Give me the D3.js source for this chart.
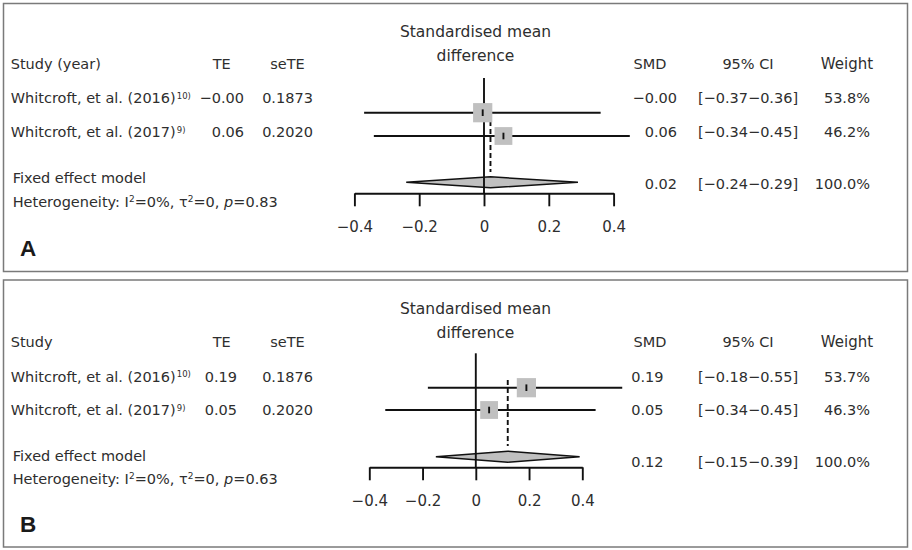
<!DOCTYPE html>
<html>
<head>
<meta charset="utf-8">
<script src="https://cdn.jsdelivr.net/npm/d3@7"></script>
<style>
  html, body { margin: 0; padding: 0; background: #fff; }
  svg text { font-family: "DejaVu Sans", sans-serif; fill: #2e2e2e; }
</style>
</head>
<body>
<svg id="chart" width="912" height="550"></svg>
<script>
// ---------------- data ----------------
const studies = ["Whitcroft, et al. (2016)", "Whitcroft, et al. (2017)"];
const studyRefs = ["10)", "9)"];
const panelLetters = ["A", "B"];
const studyHeaders = ["Study (year)", "Study"];
const tickValues = [-0.4, -0.2, 0, 0.2, 0.4];

// Panel A
const teA = [-0.004, 0.06];
const seTEA = [0.1873, 0.2020];
const ciLowA = [-0.37, -0.34];
const ciHighA = [0.36, 0.45];
const weightA = [53.8, 46.2];
const fixedA = [0.02, -0.24, 0.29, 100.0];   // estimate, lower, upper, weight
const hetA = [0, 0, 0.83];                    // I2 (%), tau2, p

// Panel B
const teB = [0.19, 0.05];
const seTEB = [0.1876, 0.2020];
const ciLowB = [-0.18, -0.34];
const ciHighB = [0.55, 0.45];
const weightB = [53.7, 46.3];
const fixedB = [0.12, -0.15, 0.39, 100.0];
const hetB = [0, 0, 0.63];

// ---------------- layout ----------------
const layouts = [
  { top: 3.5, bottom: 271.5, titleY: [37, 60.5], headerY: 69, rowTextY: [103, 137],
    femY: 183, hetY: 207, sumTextY: 189, rowLineY: [112.7, 136], diamondY: 182.3,
    axisY: 193.3, zeroTop: 78, dashTop: 105, dashBottom: 172, letterY: 256,
    xRange: [354.4, 613.6], teRight: 244, smdRight: 677 },
  { top: 280, bottom: 547, titleY: [314, 338], headerY: 347, rowTextY: [381.5, 415],
    femY: 460.5, hetY: 484, sumTextY: 467, rowLineY: [387.7, 410], diamondY: 456.7,
    axisY: 467.3, zeroTop: 353.3, dashTop: 380, dashBottom: 446, letterY: 531.5,
    xRange: [369.3, 582.3], teRight: 237, smdRight: 663.5 }
];

const panels = [
  { te: teA, se: seTEA, lo: ciLowA, hi: ciHighA, w: weightA, fixed: fixedA, het: hetA },
  { te: teB, se: seTEB, lo: ciLowB, hi: ciHighB, w: weightB, fixed: fixedB, het: hetB }
];

const svg = d3.select("#chart");
const FS = 14.5;
const LW = 1.9;
const minus = s => s.replace(/-/g, "\u2212");
const f2 = v => minus(v.toFixed(2));
const f4 = v => v.toFixed(4);

panels.forEach((p, pi) => {
  const L = layouts[pi];
  const g = svg.append("g");
  const x = d3.scaleLinear().domain([-0.4, 0.4]).range(L.xRange);

  // border
  g.append("rect").attr("x", 3.5).attr("y", L.top).attr("width", 904)
    .attr("height", L.bottom - L.top).attr("fill", "none")
    .attr("stroke", "#7a7a7a").attr("stroke-width", 1.5);

  const txt = (t, xx, yy, anchor, fs) => g.append("text").attr("x", xx).attr("y", yy)
    .attr("text-anchor", anchor || "start").attr("font-size", fs || FS).text(t);

  // title
  txt("Standardised mean", 475.5, L.titleY[0], "middle", 15.5);
  txt("difference", 475.5, L.titleY[1], "middle", 15.5);

  // headers
  txt(studyHeaders[pi], 10.7, L.headerY);
  txt("TE", 221.7, L.headerY, "middle");
  txt("seTE", 287.5, L.headerY, "middle");
  txt("SMD", 650, L.headerY, "middle");
  txt("95% CI", 748, L.headerY, "middle");
  txt("Weight", 847, L.headerY, "middle", 15);

  // study rows (text)
  studies.forEach((s, i) => {
    const y = L.rowTextY[i];
    const t = txt(s, 10.7, y);
    t.append("tspan").attr("font-size", 8.5).attr("dy", -4.5).attr("dx", 1).text(studyRefs[i]);
    txt(f2(p.te[i]), L.teRight, y, "end");
    txt(f4(p.se[i]), 287.5, y, "middle");
    txt(f2(p.te[i]), L.smdRight, y, "end");
    txt("[" + f2(p.lo[i]) + "\u2212" + f2(p.hi[i]) + "]", 748, y, "middle");
    txt(p.w[i].toFixed(1) + "%", 870, y, "end");
  });

  // fixed effect text
  txt("Fixed effect model", 12.7, L.femY);
  const het = g.append("text").attr("x", 12.7).attr("y", L.hetY).attr("font-size", FS);
  het.append("tspan").text("Heterogeneity: I");
  het.append("tspan").attr("font-size", 9).attr("dy", -5).text("2");
  het.append("tspan").attr("dy", 5).text("=" + p.het[0] + "%, \u03C4");
  het.append("tspan").attr("font-size", 9).attr("dy", -5).text("2");
  het.append("tspan").attr("dy", 5).text("=" + p.het[1] + ", ");
  het.append("tspan").attr("font-style", "italic").text("p");
  het.append("tspan").text("=" + p.het[2].toFixed(2));

  txt(f2(p.fixed[0]), L.smdRight, L.sumTextY, "end");
  txt("[" + f2(p.fixed[1]) + "\u2212" + f2(p.fixed[2]) + "]", 748, L.sumTextY, "middle");
  txt(p.fixed[3].toFixed(1) + "%", 870, L.sumTextY, "end");

  // panel letter
  g.append("text").attr("x", 20).attr("y", L.letterY).attr("font-size", 22.5)
    .attr("font-weight", "bold").style("font-family", "'Liberation Sans', Arial, sans-serif")
    .style("fill", "#1a1a1a").text(panelLetters[pi]);

  // dashed summary line
  g.append("line").attr("x1", x(p.fixed[0])).attr("x2", x(p.fixed[0]))
    .attr("y1", L.dashTop).attr("y2", L.dashBottom)
    .attr("stroke", "#111").attr("stroke-width", LW).attr("stroke-dasharray", "5,3");

  // CI lines
  studies.forEach((s, i) => {
    g.append("line").attr("x1", x(p.lo[i])).attr("x2", x(p.hi[i]))
      .attr("y1", L.rowLineY[i]).attr("y2", L.rowLineY[i])
      .attr("stroke", "#111").attr("stroke-width", LW);
  });

  // diamond
  const d = p.fixed, dy = L.diamondY, hh = 5.5;
  g.append("path")
    .attr("d", `M${x(d[1])},${dy} L${x(d[0])},${dy - hh} L${x(d[2])},${dy} L${x(d[0])},${dy + hh} Z`)
    .attr("fill", "#c0c0c0").attr("stroke", "#111").attr("stroke-width", 1.5);

  // zero line
  g.append("line").attr("x1", x(0)).attr("x2", x(0)).attr("y1", L.zeroTop).attr("y2", L.axisY)
    .attr("stroke", "#111").attr("stroke-width", LW);

  // squares + ticks
  studies.forEach((s, i) => {
    const side = 26.2 * Math.sqrt(p.w[i] / 100);
    const cx = x(p.te[i]), cy = L.rowLineY[i];
    g.append("rect").attr("x", cx - side / 2).attr("y", cy - side / 2)
      .attr("width", side).attr("height", side).attr("fill", "#c0c0c0");
    g.append("line").attr("x1", cx).attr("x2", cx).attr("y1", cy - 3.3).attr("y2", cy + 3.3)
      .attr("stroke", "#111").attr("stroke-width", LW);
  });

  // axis
  const axis = d3.axisBottom(x).tickValues(tickValues).tickSize(13).tickSizeOuter(0)
    .tickPadding(15).tickFormat(v => v === 0 ? "0" : minus(String(v)));
  const ax = g.append("g").attr("transform", `translate(0,${L.axisY})`).call(axis);
  ax.select(".domain").attr("stroke", "#111").attr("stroke-width", LW);
  ax.selectAll(".tick line").attr("stroke", "#111").attr("stroke-width", LW);
  ax.selectAll(".tick text").attr("font-size", 15)
    .style("font-family", "'DejaVu Sans', sans-serif").attr("fill", "#2e2e2e");
});
</script>
</body>
</html>
